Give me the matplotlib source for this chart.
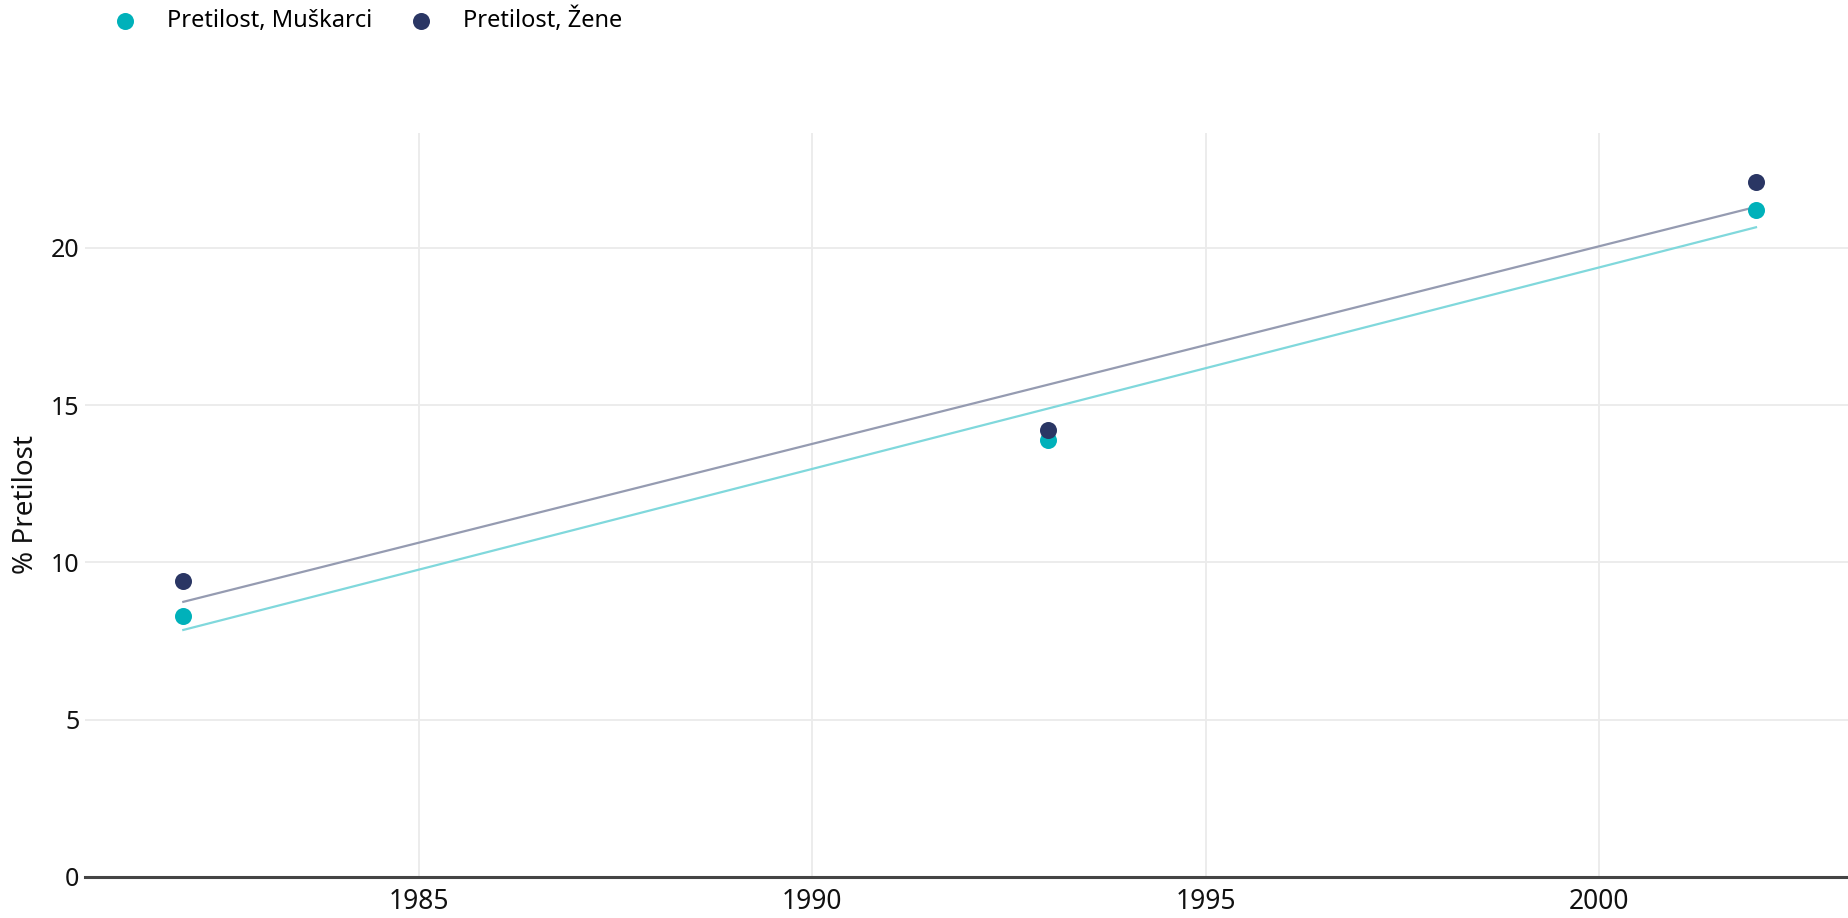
import numpy as np
import matplotlib
matplotlib.use("Agg")
import matplotlib.pyplot as plt

years = [1982, 1993, 2002]
muskarci = [8.3, 13.9, 21.2]
zene = [9.4, 14.2, 22.1]
series_names = ["Pretilost, Muškarci", "Pretilost, Žene"]
x_ticks = [1985, 1990, 1995, 2000]
y_ticks = [0, 5, 10, 15, 20]

plt.rcParams['font.family'] = ['Noto Sans', 'DejaVu Sans']

colors = ['#00B1BA', '#2A3664']
line_colors = ['#80D8DC', '#959BB1']

fig = plt.figure(figsize=(18.48, 9.18), dpi=100)
ax = fig.add_axes([85 / 1848, 1 - 877 / 918, 1 - 85 / 1848, (877 - 133) / 918])

x = np.array(years, dtype=float)
handles = []
for vals, c, lc, name in zip([muskarci, zene], colors, line_colors, series_names):
    # linear trend (OLS) through the points
    k, b = np.polyfit(x, np.array(vals), 1)
    ax.plot([x.min(), x.max()], [k * x.min() + b, k * x.max() + b],
            color=lc, lw=1.6, zorder=2)
    h = ax.scatter(x, vals, s=150, color=c, zorder=3, label=name, linewidths=0)
    handles.append(h)

ax.set_xlim(1980.75, 2003.17)
ax.set_ylim(0, 23.65)
ax.set_xticks(x_ticks)
ax.set_yticks(y_ticks)
ax.tick_params(axis='both', length=0, colors='#111111')
ax.tick_params(axis='x', pad=8, labelsize=19)
ax.tick_params(axis='y', pad=4, labelsize=18)
ax.grid(True, color='#ebebeb', lw=1.3)
ax.set_axisbelow(True)
for side in ['top', 'right', 'left']:
    ax.spines[side].set_visible(False)
ax.spines['bottom'].set_color('#444444')
ax.spines['bottom'].set_linewidth(2.2)
ax.set_ylabel('% Pretilost', fontsize=20, color='#111111', labelpad=8)

fig.legend(handles=handles, labels=series_names, loc='center left',
           bbox_to_anchor=(113 / 1848, 1 - 20 / 918), ncol=2, frameon=False,
           fontsize=17, handlelength=1.0, handletextpad=1.29, columnspacing=1.57,
           borderaxespad=0, borderpad=0)

fig.savefig('out.png', dpi=100)
